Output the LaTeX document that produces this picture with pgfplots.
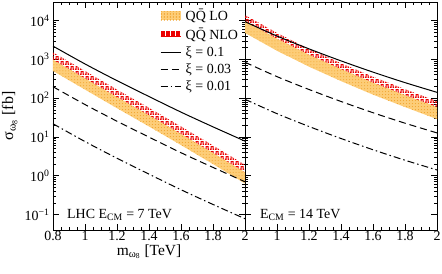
\documentclass[border=0pt]{standalone}
\usepackage{fontspec}
\setmainfont{Liberation Serif}
\usepackage{pgfplots}
\pgfplotsset{compat=1.18}
\usetikzlibrary{patterns,patterns.meta}

\definecolor{lofill}{RGB}{253,205,120}
\definecolor{lodot}{RGB}{240,160,40}
\definecolor{nlored}{RGB}{235,0,0}

\pgfdeclarepattern{
  name=sqwave,
  type=uncolored,
  bottom left={\pgfpoint{0bp}{0bp}},
  top right={\pgfpoint{5bp}{4.5bp}},
  tile size={\pgfpoint{5bp}{4.5bp}},
  code={
    \pgfsetlinewidth{1.2bp}
    \pgfpathmoveto{\pgfpoint{0bp}{0.8bp}}
    \pgfpathlineto{\pgfpoint{1.25bp}{0.8bp}}
    \pgfpathlineto{\pgfpoint{1.25bp}{3.7bp}}
    \pgfpathlineto{\pgfpoint{3.75bp}{3.7bp}}
    \pgfpathlineto{\pgfpoint{3.75bp}{0.8bp}}
    \pgfpathlineto{\pgfpoint{5bp}{0.8bp}}
    \pgfusepath{stroke}
  }
}

\tikzset{
  solidc/.style={black, line width=1bp},
  dashc/.style={black, line width=1bp, dash pattern=on 7bp off 4bp},
  dotdashc/.style={black, line width=1bp, dash pattern=on 7bp off 3bp on 1.5bp off 3bp},
}

\begin{document}
\begin{tikzpicture}
\useasboundingbox (-53bp,-44bp) rectangle (389bp,230bp);

% ---------------- left panel: 7 TeV
\begin{axis}[
  scale only axis, width=192bp, height=228bp,
  ymode=log, ymin=0.04, ymax=3e4, xmin=0.8, xmax=2,
  xtick={0.8,1,1.2,1.4,1.6,1.8,2},
  minor x tick num=3,
  ytick={0.1,1,10,100,1000,10000},
  tick align=inside, major tick length=6bp, minor tick length=3bp,
  axis line style={line width=0.8bp},
  tick style={black, line width=0.6bp},
  tick label style={font=\fontsize{14}{14}\selectfont},
  xticklabel style={yshift=2bp},
  at={(0bp,0bp)}, anchor=south west,
  xticklabels={0.8,1,1.2,1.4,1.6,1.8,2},
  yticklabels={10\textsuperscript{−1},10\textsuperscript{0},10\textsuperscript{1},10\textsuperscript{2},10\textsuperscript{3},10\textsuperscript{4}},
  xlabel={m\textsubscript{ω\textsubscript{8}} [TeV]},
  ylabel={σ\textsubscript{ω\textsubscript{8}} [fb]},
  every axis x label/.style={at={(axis description cs:0.5,0)}, anchor=base, yshift=-25bp, inner sep=0pt, font=\fontsize{15.5}{15.5}\selectfont},
  every axis y label/.style={at={(axis description cs:-0.208,0.5)}, rotate=90, anchor=base, font=\fontsize{16}{16}\selectfont},
  legend style={at={(axis description cs:0.557,0.975)}, anchor=north west, draw=none, fill=none,
    font=\fontsize{14}{14}\selectfont, row sep=3bp, column sep=3bp, inner sep=0pt,
    nodes={inner sep=1.5bp}},
  legend cell align=left,
]
% LO band
\addplot[fill=lofill, draw=none, postaction={pattern=dots, pattern color=lodot},
  legend image code/.code={\fill[lofill] (0bp,-4.5bp) rectangle (20bp,4.5bp);
    \fill[pattern=dots, pattern color=lodot] (0bp,-4.5bp) rectangle (20bp,4.5bp);}]
  coordinates {(0.8,977)(1.0,324)(1.2,107)(1.4,36.3)(1.6,12.0)(1.8,3.89)(2.0,1.23)
               (2.0,0.63)(1.8,2.0)(1.6,6.17)(1.4,18.6)(1.2,55.0)(1.0,166)(0.8,501)} -- cycle;
\addlegendentry{Q\={Q} LO}
% NLO band
\addplot[draw=none, pattern=sqwave, pattern color=nlored,
  legend image code/.code={\draw[nlored, line width=1.1bp, x=1bp, y=1bp]
    (0,-2.5)--(1.25,-2.5)--(1.25,2.5)--(3.75,2.5)--(3.75,-2.5)--(6.25,-2.5)--(6.25,2.5)--(8.75,2.5)--(8.75,-2.5)--(11.25,-2.5)--(11.25,2.5)--(13.75,2.5)--(13.75,-2.5)--(16.25,-2.5)--(16.25,2.5)--(18.75,2.5)--(18.75,-2.5)--(20,-2.5);}]
  coordinates {(0.8,1514)(1.0,501)(1.2,166)(1.4,56.2)(1.6,18.6)(1.8,6.03)(2.0,1.91)
               (2.0,1.23)(1.8,3.89)(1.6,12.0)(1.4,36.3)(1.2,107)(1.0,324)(0.8,977)} -- cycle;
\addlegendentry{Q\={Q} NLO}
\addplot[solidc, smooth, legend image code/.code={\draw[solidc] (0bp,0bp) -- (20bp,0bp);}]
  coordinates {(0.8,2190)(1.0,760)(1.2,282)(1.4,110)(1.6,43.6)(1.8,18.2)(2.0,7.8)};
\addlegendentry{ξ = 0.1}
\addplot[dashc, smooth, legend image code/.code={\draw[dashc] (0bp,0bp) -- (20bp,0bp);}]
  coordinates {(0.8,197)(1.0,68.4)(1.2,25.4)(1.4,9.9)(1.6,3.92)(1.8,1.64)(2.0,0.70)};
\addlegendentry{ξ = 0.03}
\addplot[dotdashc, smooth, legend image code/.code={\draw[dotdashc] (0bp,0bp) -- (20bp,0bp);}]
  coordinates {(0.8,21.9)(1.0,7.6)(1.2,2.82)(1.4,1.10)(1.6,0.436)(1.8,0.182)(2.0,0.078)};
\addlegendentry{ξ = 0.01}
\node[anchor=west, font=\fontsize{14}{14}\selectfont, inner sep=0pt] at (axis description cs:0.073,0.066) {LHC E\textsubscript{CM} = 7 TeV};
\end{axis}

% ---------------- right panel: 14 TeV
\begin{axis}[
  scale only axis, width=192bp, height=228bp,
  ymode=log, ymin=0.04, ymax=3e4, xmin=0.8, xmax=2,
  xtick={0.8,1,1.2,1.4,1.6,1.8,2},
  minor x tick num=3,
  ytick={0.1,1,10,100,1000,10000},
  tick align=inside, major tick length=6bp, minor tick length=3bp,
  axis line style={line width=0.8bp},
  tick style={black, line width=0.6bp},
  tick label style={font=\fontsize{14}{14}\selectfont},
  xticklabel style={yshift=2bp},
  at={(192bp,0bp)}, anchor=south west,
  xticklabels={,1,1.2,1.4,1.6,1.8,2},
  yticklabels={},
]
\addplot[fill=lofill, draw=none, postaction={pattern=dots, pattern color=lodot}]
  coordinates {(0.8,9770)(1.0,3390)(1.2,1318)(1.4,562)(1.6,251)(1.8,120)(2.0,58.9)
               (2.0,28.8)(1.8,58.9)(1.6,123)(1.4,275)(1.2,646)(1.0,1660)(0.8,4790)} -- cycle;
\addplot[draw=none, pattern=sqwave, pattern color=nlored]
  coordinates {(0.8,13800)(1.0,4790)(1.2,1860)(1.4,794)(1.6,355)(1.8,170)(2.0,83.2)
               (2.0,58.9)(1.8,120)(1.6,251)(1.4,562)(1.2,1318)(1.0,3390)(0.8,9770)} -- cycle;
\addplot[solidc, smooth] coordinates {(0.8,9330)(1.0,3980)(1.2,1860)(1.4,912)(1.6,468)(1.8,251)(2.0,141)};
\addplot[dashc, smooth] coordinates {(0.8,840)(1.0,358)(1.2,167)(1.4,82)(1.6,42.1)(1.8,22.6)(2.0,12.7)};
\addplot[dotdashc, smooth] coordinates {(0.8,93.3)(1.0,39.8)(1.2,18.6)(1.4,9.12)(1.6,4.68)(1.8,2.51)(2.0,1.41)};
\node[anchor=west, font=\fontsize{14}{14}\selectfont, inner sep=0pt] at (axis description cs:0.078,0.066) {E\textsubscript{CM} = 14 TeV};
\end{axis}
\end{tikzpicture}
\end{document}
